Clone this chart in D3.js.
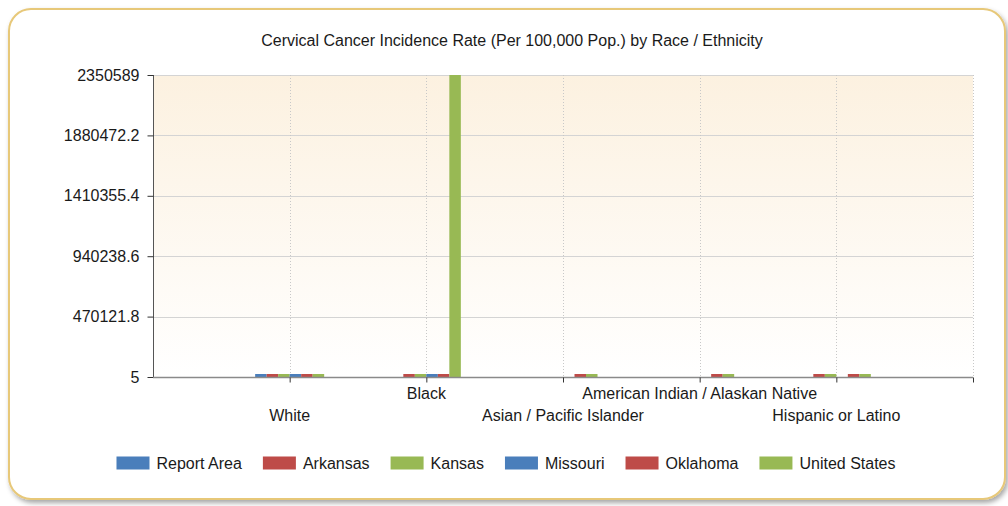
<!DOCTYPE html>
<html>
<head>
<meta charset="utf-8">
<script src="https://cdn.jsdelivr.net/npm/d3@7/dist/d3.min.js"></script>
<style>
  html, body { margin: 0; padding: 0; background: #ffffff; }
  svg { display: block; font-family: "Liberation Sans", Arial, sans-serif; }
</style>
</head>
<body>
<svg id="chart" width="1008" height="506"></svg>
<script>
// ---- data ----
const title = "Cervical Cancer Incidence Rate (Per 100,000 Pop.) by Race / Ethnicity";
const categories = ["White", "Black", "Asian / Pacific Islander", "American Indian / Alaskan Native", "Hispanic or Latino"];
const seriesNames = ["Report Area", "Arkansas", "Kansas", "Missouri", "Oklahoma", "United States"];
const reportArea   = [7.9, null, null, null, null];
const arkansas     = [9.8, 9.6, null, null, 10.4];
const kansas       = [6.9, 8.4, null, null, 8.7];
const missouri     = [7.8, 8.8, null, null, null];
const oklahoma     = [9.9, 9.3, 5.1, 10.6, 11.6];
const unitedStates = [7.4, 2350589, 6.2, 9.3, 9.7];
const yTicks = [5, 470121.8, 940238.6, 1410355.4, 1880472.2, 2350589];
const seriesColors = ["#4A7EBB", "#BE4B48", "#98B954", "#4A7EBB", "#BE4B48", "#98B954"];

const seriesValues = [reportArea, arkansas, kansas, missouri, oklahoma, unitedStates];

// ---- layout ----
const svg = d3.select("#chart");
const plot = { left: 153, right: 973, top: 75, bottom: 377 };
const textColor = "#1a1a1a";

const defs = svg.append("defs");
const shadow = defs.append("filter").attr("id", "shadow").attr("x", "-5%").attr("y", "-5%").attr("width", "110%").attr("height", "115%");
shadow.append("feDropShadow").attr("dx", 2).attr("dy", 3).attr("stdDeviation", 2.5).attr("flood-color", "#000").attr("flood-opacity", 0.35);

const grad = defs.append("linearGradient").attr("id", "plotGrad").attr("x1", 0).attr("y1", 0).attr("x2", 0).attr("y2", 1);
grad.append("stop").attr("offset", "0%").attr("stop-color", "#fcf1e0");
grad.append("stop").attr("offset", "100%").attr("stop-color", "#ffffff");

// frame
svg.append("rect")
  .attr("x", 9).attr("y", 9).attr("width", 996).attr("height", 490)
  .attr("rx", 22).attr("ry", 22)
  .attr("fill", "#ffffff")
  .attr("stroke", "#e7c879").attr("stroke-width", 2)
  .attr("filter", "url(#shadow)");

// title
svg.append("text")
  .attr("x", 512).attr("y", 46)
  .attr("text-anchor", "middle")
  .attr("font-size", 16).attr("fill", textColor)
  .text(title);

// scales
const x = d3.scaleLinear().domain([0, categories.length + 1]).range([plot.left, plot.right]);
const y = d3.scaleLinear().domain([yTicks[0], yTicks[yTicks.length - 1]]).range([plot.bottom, plot.top]);
const step = x(1) - x(0);
const groupW = step * 0.505;
const inner = d3.scaleBand().domain(d3.range(seriesNames.length)).range([-groupW / 2, groupW / 2]).padding(0);

// plot background
svg.append("rect")
  .attr("x", plot.left).attr("y", plot.top)
  .attr("width", plot.right - plot.left).attr("height", plot.bottom - plot.top)
  .attr("fill", "url(#plotGrad)");

// horizontal gridlines
svg.append("g").selectAll("line").data(yTicks).join("line")
  .attr("x1", plot.left).attr("x2", plot.right)
  .attr("y1", d => Math.round(y(d)) + 0.5).attr("y2", d => Math.round(y(d)) + 0.5)
  .attr("stroke", "#d4d4d4").attr("stroke-width", 1);

// vertical dotted gridlines
const vgrid = d3.range(1, categories.length + 2);
svg.append("g").selectAll("line").data(vgrid).join("line")
  .attr("x1", d => Math.round(x(d)) + 0.5).attr("x2", d => Math.round(x(d)) + 0.5)
  .attr("y1", plot.top).attr("y2", plot.bottom)
  .attr("stroke", "#c8c8c8").attr("stroke-width", 1).attr("stroke-dasharray", "1,2");

// bars
const barData = [];
categories.forEach((c, i) => {
  seriesValues.forEach((vals, s) => {
    if (vals[i] !== null) barData.push({ ci: i, s: s, v: vals[i] });
  });
});
svg.append("g").selectAll("rect").data(barData).join("rect")
  .attr("x", d => x(d.ci + 1) + inner(d.s))
  .attr("width", inner.bandwidth())
  .attr("y", d => Math.min(y(d.v), plot.bottom - 3))
  .attr("height", d => Math.max(plot.bottom - y(d.v), 3))
  .attr("fill", d => seriesColors[d.s]);

// y axis
const yAxis = d3.axisLeft(y).tickValues(yTicks).tickSize(6).tickPadding(8)
  .tickFormat(d => String(d));
const gy = svg.append("g").attr("transform", `translate(${plot.left + 0.5},0)`).call(yAxis);
gy.select(".domain").attr("stroke", "#555").attr("d", `M0,${plot.top}V${plot.bottom}`);
gy.selectAll(".tick line").attr("stroke", "#333");
gy.selectAll(".tick text").attr("font-size", 16).attr("fill", textColor)
  .attr("font-family", "'Liberation Sans', Arial, sans-serif");

// x axis
const xAxis = d3.axisBottom(x).tickValues(d3.range(1, categories.length + 2)).tickSize(5).tickFormat("");
const gx = svg.append("g").attr("transform", `translate(0,${plot.bottom + 0.5})`).call(xAxis);
gx.select(".domain").attr("stroke", "#8a8a8a").attr("stroke-width", 1.5).attr("d", `M${plot.left},0H${plot.right}`);
gx.selectAll(".tick line").attr("stroke", "#333");

// staggered category labels
svg.append("g").selectAll("text").data(categories).join("text")
  .attr("x", (d, i) => x(i + 1))
  .attr("y", (d, i) => i % 2 === 0 ? 421 : 399)
  .attr("text-anchor", "middle")
  .attr("font-size", 16).attr("fill", textColor)
  .text(d => d);

// legend
const legend = svg.append("g");
const items = legend.selectAll("g").data(seriesNames).join("g");
items.append("rect").attr("width", 33).attr("height", 13).attr("y", -6.5).attr("fill", (d, i) => seriesColors[i]);
items.append("text").attr("x", 40).attr("y", 5.5).attr("font-size", 16).attr("fill", textColor).text(d => d);
const widths = [];
items.each(function () {
  const tw = d3.select(this).select("text").node().getComputedTextLength();
  widths.push(40 + tw);
});
const gap = 21;
const total = d3.sum(widths) + gap * (widths.length - 1);
let cx = 506 - total / 2;
items.attr("transform", (d, i) => {
  const t = `translate(${cx},463)`;
  cx += widths[i] + gap;
  return t;
});
</script>
</body>
</html>
